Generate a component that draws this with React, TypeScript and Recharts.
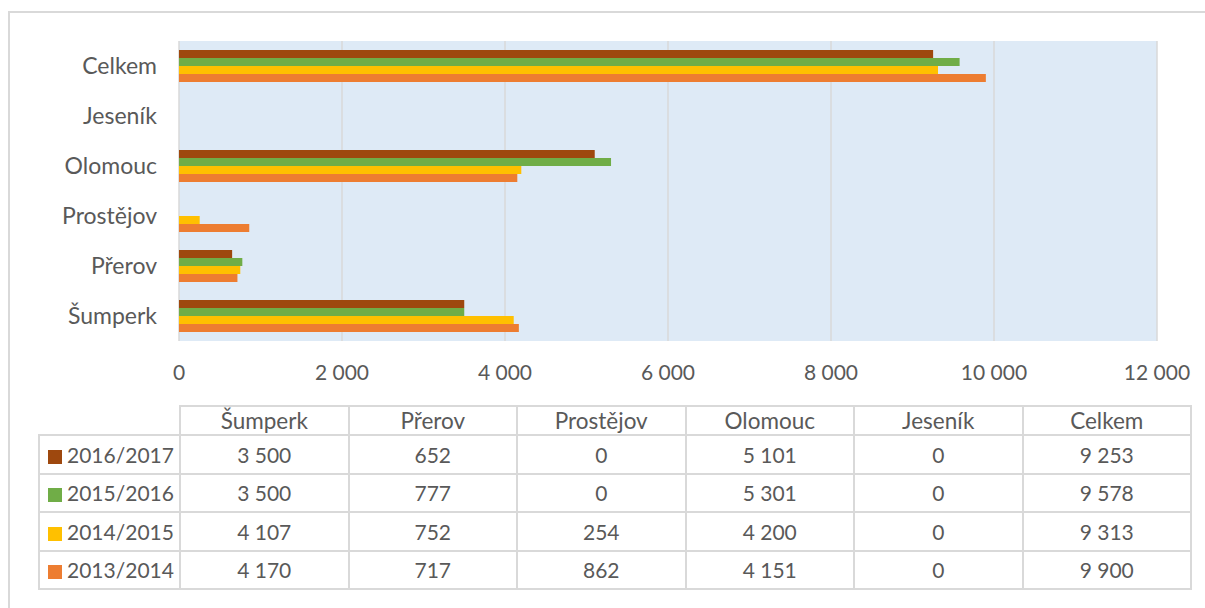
import { BarChart, Bar, XAxis, YAxis, CartesianGrid } from 'recharts';

// categories in table order (left to right); chart shows them bottom to top
const categories = ['Šumperk', 'Přerov', 'Prostějov', 'Olomouc', 'Jeseník', 'Celkem'];
const seasons = ['2016/2017', '2015/2016', '2014/2015', '2013/2014'];
const season2016 = [3500, 652, 0, 5101, 0, 9253];
const season2015 = [3500, 777, 0, 5301, 0, 9578];
const season2014 = [4107, 752, 254, 4200, 0, 9313];
const season2013 = [4170, 717, 862, 4151, 0, 9900];
const xTicks = [0, 2000, 4000, 6000, 8000, 10000, 12000];

const colors = ['#9E480E', '#70AD47', '#FFC000', '#ED7D31'];
const seriesValues = [season2016, season2015, season2014, season2013];
const keys = ['s2016', 's2015', 's2014', 's2013'];

const chartData = categories
  .map((name, i) => ({
    name,
    s2016: season2016[i],
    s2015: season2015[i],
    s2014: season2014[i],
    s2013: season2013[i],
  }))
  .reverse();

const fmt = (v: number) => String(v).replace(/\B(?=(\d{3})+(?!\d))/g, ' ');

const textColor = '#595959';
const lineColor = '#d9d9d9';
const font = 'Lato, "Open Sans", sans-serif';

const cell: React.CSSProperties = {
  border: `2px solid ${lineColor}`,
  textAlign: 'center',
  padding: 0,
};

export default function App() {
  return (
    <div
      style={{
        position: 'fixed',
        left: 8,
        top: 11,
        width: 1220,
        height: 620,
        border: `2px solid ${lineColor}`,
        boxSizing: 'border-box',
        fontFamily: font,
        color: textColor,
        background: '#fff',
      }}
    >
      <div style={{ position: 'absolute', left: 0, top: 0 }}>
        <BarChart
          width={1190}
          height={380}
          data={chartData}
          layout="vertical"
          margin={{ top: 28, right: 43, bottom: 12, left: 0 }}
          barGap={0}
          barSize={8}
        >
          <CartesianGrid fill="#DEEAF6" stroke={lineColor} strokeWidth={1.5} horizontal={false} />
          <XAxis
            type="number"
            domain={[0, 12000]}
            ticks={xTicks}
            tickFormatter={fmt}
            axisLine={false}
            tickLine={false}
            tickSize={0}
            tickMargin={24}
            height={40}
            tick={{ fill: textColor, fontSize: 21, fontFamily: font }}
          />
          <YAxis
            type="category"
            dataKey="name"
            width={169}
            axisLine={false}
            tickLine={false}
            tickSize={0}
            tickMargin={22}
            tick={{ fill: textColor, fontSize: 23, fontFamily: font }}
          />
          {keys.map((k, i) => (
            <Bar key={k} dataKey={k} name={seasons[i]} fill={colors[i]} isAnimationActive={false} />
          ))}
        </BarChart>
      </div>
      <table
        style={{
          position: 'absolute',
          left: 28,
          top: 392,
          width: 1154,
          borderCollapse: 'collapse',
          tableLayout: 'fixed',
          fontSize: 21,
          fontFamily: font,
          color: textColor,
        }}
      >
        <colgroup>
          <col style={{ width: 141 }} />
          {categories.map((c) => (
            <col key={c} style={{ width: 168.5 }} />
          ))}
        </colgroup>
        <tbody>
          <tr style={{ height: 29 }}>
            <td style={{ border: 'none', padding: 0 }} />
            {categories.map((c) => (
              <td key={c} style={{ ...cell, fontSize: 22.5 }}>
                {c}
              </td>
            ))}
          </tr>
          {seasons.map((s, si) => (
            <tr key={s} style={{ height: 38.5 }}>
              <td style={{ ...cell, textAlign: 'left', whiteSpace: 'nowrap' }}>
                <span
                  style={{
                    display: 'inline-block',
                    width: 14,
                    height: 14,
                    background: colors[si],
                    marginLeft: 8,
                    marginRight: 5,
                    verticalAlign: -1,
                  }}
                />
                {s}
              </td>
              {seriesValues[si].map((v, ci) => (
                <td key={ci} style={cell}>
                  {fmt(v)}
                </td>
              ))}
            </tr>
          ))}
        </tbody>
      </table>
    </div>
  );
}
